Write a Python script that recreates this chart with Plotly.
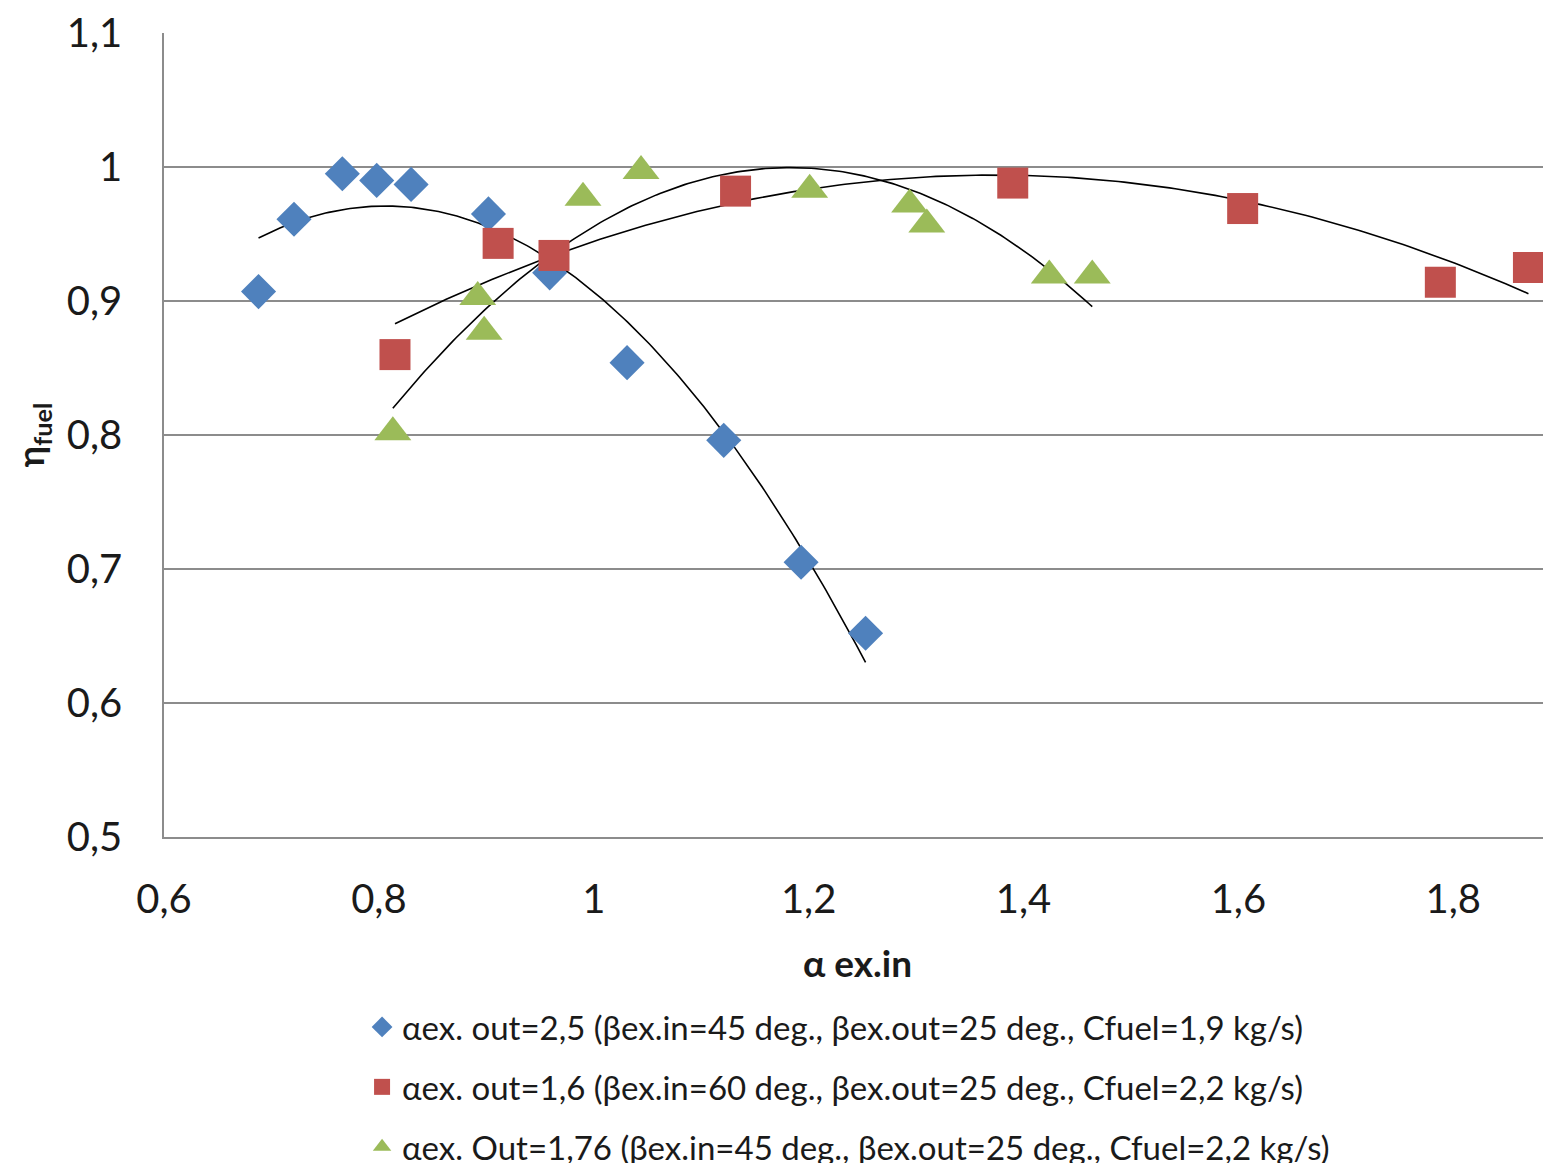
import numpy as np
import plotly.graph_objects as go

# ---- data ----
blue_x = [0.688, 0.721, 0.766, 0.798, 0.830, 0.902, 0.959, 1.031, 1.121, 1.193, 1.253]
blue_y = [0.907, 0.961, 0.995, 0.990, 0.987, 0.965, 0.921, 0.854, 0.796, 0.705, 0.652]

red_x = [0.815, 0.911, 0.963, 1.132, 1.390, 1.604, 1.788, 1.870]
red_y = [0.860, 0.943, 0.934, 0.982, 0.988, 0.969, 0.914, 0.925]

green_x = [0.813, 0.892, 0.898, 0.990, 1.044, 1.201, 1.294, 1.310, 1.424, 1.464]
green_y = [0.802, 0.903, 0.877, 0.977, 0.997, 0.983, 0.972, 0.957, 0.919, 0.919]

names = [
    "αex. out=2,5 (βex.in=45 deg., βex.out=25 deg., Cfuel=1,9 kg/s)",
    "αex. out=1,6 (βex.in=60 deg., βex.out=25 deg., Cfuel=2,2 kg/s)",
    "αex. Out=1,76 (βex.in=45 deg., βex.out=25 deg., Cfuel=2,2 kg/s)",
]
colors = ["#4F81BD", "#C0504D", "#9BBB59"]
symbols = ["diamond", "square", "triangle-up"]
sizes = [27, 31, 32]

x_ticks = [0.6, 0.8, 1.0, 1.2, 1.4, 1.6, 1.8]
x_labels = ["0,6", "0,8", "1", "1,2", "1,4", "1,6", "1,8"]
y_ticks = [0.5, 0.6, 0.7, 0.8, 0.9, 1.0, 1.1]
y_labels = ["0,5", "0,6", "0,7", "0,8", "0,9", "1", "1,1"]

FONT = "Lato"

fig = go.Figure()
series = [(blue_x, blue_y), (red_x, red_y), (green_x, green_y)]

# polynomial (order 2) trendlines, like Excel
for (xs, ys) in series:
    c = np.polyfit(xs, ys, 2)
    xf = np.linspace(min(xs), max(xs), 200)
    fig.add_trace(go.Scatter(x=xf, y=np.polyval(c, xf), mode="lines",
                             line=dict(color="black", width=1.6),
                             showlegend=False, hoverinfo="skip"))

for i, (xs, ys) in enumerate(series):
    fig.add_trace(go.Scatter(x=xs, y=ys, mode="markers", name=names[i],
                             legendgroup=f"g{i}",
                             marker=dict(symbol=symbols[i], size=sizes[i],
                                         color=colors[i], line=dict(width=0))))

# page body has an 8px margin: figure is sized/offset to compensate
fig.update_layout(
    width=1543, height=1155,
    margin=dict(l=156, r=0, t=25, b=326, autoexpand=False),
    paper_bgcolor="white", plot_bgcolor="white",
    font=dict(family=FONT, color="#1a1a1a"),
    showlegend=True,
    legend=dict(x=0.1428, xanchor="left", y=-0.2015, yanchor="top",
                font=dict(size=33, family=FONT), tracegroupgap=14,
                traceorder="grouped", itemsizing="trace"),
    xaxis=dict(range=[0.6, 1.891], tickvals=x_ticks, ticktext=x_labels,
               showgrid=False, zeroline=False, showline=True, automargin=False,
               linecolor="#8c8c8c", linewidth=1.5, ticks="",
               tickfont=dict(size=40, family=FONT), ticklabelstandoff=26,
               title=dict(text="<b>α ex.in</b>", font=dict(size=37, family=FONT),
                          standoff=30)),
    yaxis=dict(range=[0.5, 1.1], tickvals=y_ticks, ticktext=y_labels,
               showgrid=True, gridcolor="#8c8c8c", gridwidth=1.5, automargin=False,
               zeroline=False, showline=True, linecolor="#8c8c8c",
               linewidth=1.5, ticks="",
               tickfont=dict(size=40, family=FONT), ticklabelstandoff=32,
               title=dict(text="<b>η<sub>fuel</sub></b>",
                          font=dict(size=36, family=FONT), standoff=25)),
)

fig.write_html("out.html")
